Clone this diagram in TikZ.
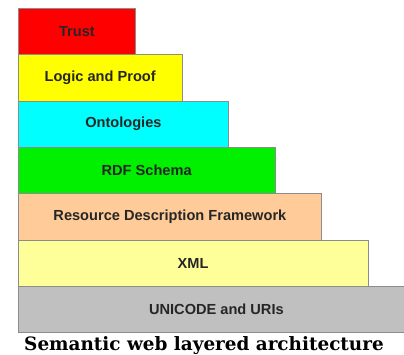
\documentclass[tikz,border=0pt]{standalone}
\usepackage{fontspec}
\setmainfont{Liberation Sans}
\newfontfamily\titlefont{DejaVu Serif}
\definecolor{trustred}{HTML}{FF0000}
\definecolor{logicyellow}{HTML}{FFFF00}
\definecolor{ontocyan}{HTML}{00FFFF}
\definecolor{schemagreen}{HTML}{00F000}
\definecolor{rdfpeach}{HTML}{FFCC99}
\definecolor{xmlyellow}{HTML}{FFFF99}
\definecolor{unigray}{HTML}{C0C0C0}
\begin{document}
\begin{tikzpicture}[x=1pt, y=-1pt,
    layer/.style={draw=black!45, line width=0.8pt, inner sep=0pt, anchor=south west,
        minimum height=46.3pt, text=black!85, font=\bfseries\fontsize{14.6}{16}\selectfont}]
\useasboundingbox (0,0) rectangle (404,355);

% Layers, bottom to top
\foreach \i/\name/\col/\txt in {0/uni/unigray/UNICODE and URIs,
    1/xml/xmlyellow/XML,
    2/rdf/rdfpeach/Resource Description Framework,
    3/schema/schemagreen/RDF Schema,
    4/onto/ontocyan/Ontologies,
    5/logic/logicyellow/Logic and Proof,
    6/trust/trustred/Trust} {
    \node[layer, fill=\col, minimum width={396pt-46.5pt*\i}] (\name) at (18, {333-46.3*\i}) {\txt};
}

% Caption
\node[anchor=base, font=\titlefont\bfseries\fontsize{18.4}{20}\selectfont] (caption) at (204,350)
    {Semantic web layered architecture};
\end{tikzpicture}
\end{document}
